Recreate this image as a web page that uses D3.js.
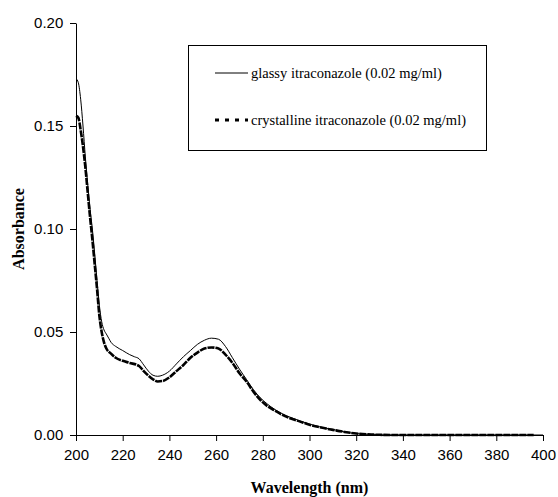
<!DOCTYPE html>
<html><head><meta charset="utf-8">
<script src="https://cdn.jsdelivr.net/npm/d3@7"></script>
<style>body{margin:0;background:#fff;}svg{display:block;}</style>
</head><body>
<svg id="c" width="558" height="497"></svg>
<script>
const glassyWl = [200,201,202,203,204,205,206,207,208,209,210,211,212,213,214,215,217,220,223,225,227,229,231,233,235,237,240,243,246,249,252,255,258,261,264,267,270,273,276,279,282,285,288,292,296,300,305,310,315,320,325,330,340,360,380,400];
const glassyAbs = [0.173,0.171,0.163,0.150,0.135,0.122,0.110,0.100,0.088,0.075,0.063,0.055,0.051,0.049,0.047,0.045,0.043,0.041,0.039,0.038,0.037,0.034,0.031,0.029,0.0285,0.029,0.031,0.0345,0.038,0.041,0.044,0.046,0.047,0.0465,0.043,0.0375,0.032,0.027,0.022,0.018,0.015,0.0125,0.0105,0.0085,0.0068,0.0053,0.0038,0.0027,0.0015,0.0007,0.0003,0.0001,0,0,0,0];
const crystWl = [200,201,202,203,204,205,206,207,208,209,210,211,212,213,215,217,220,223,227,229,231,233,235,237,240,243,246,249,252,255,258,261,264,267,270,273,276,279,282,285,288,292,296,300,305,310,315,320,325,330,340,360,380,396];
const crystAbs = [0.155,0.154,0.148,0.140,0.130,0.118,0.106,0.095,0.083,0.071,0.058,0.050,0.045,0.042,0.0395,0.0375,0.036,0.035,0.0335,0.031,0.0288,0.027,0.026,0.0262,0.028,0.031,0.034,0.0375,0.040,0.042,0.0425,0.042,0.039,0.035,0.030,0.026,0.021,0.017,0.014,0.012,0.010,0.008,0.0065,0.005,0.0036,0.0025,0.0015,0.0007,0.0003,0.0001,0,0,0,0];
const xTicks = [200,220,240,260,280,300,320,340,360,380,400];
const yTicks = [0,0.05,0.10,0.15,0.20];
const legendLabels = ["glassy itraconazole (0.02 mg/ml)","crystalline itraconazole (0.02 mg/ml)"];

const svg = d3.select("#c");
const x = d3.scaleLinear().domain([200,400]).range([76,543]);
const y = d3.scaleLinear().domain([0,0.2]).range([435,23]);

const xa = svg.append("g").attr("transform","translate(0,435)")
  .call(d3.axisBottom(x).tickValues(xTicks).tickSize(6).tickSizeOuter(0).tickFormat(d3.format("d")));
const ya = svg.append("g").attr("transform","translate(76,0)")
  .call(d3.axisLeft(y).tickValues(yTicks).tickSize(6).tickSizeOuter(0).tickFormat(d3.format(".2f")));
[xa,ya].forEach(a=>{
  a.selectAll("path,line").attr("stroke","#000").attr("stroke-width",1);
  a.selectAll("text").attr("font-family","'Liberation Sans', Arial, sans-serif").attr("font-size",15).attr("fill","#000");
});
xa.selectAll("text").attr("dy","1.05em");
ya.selectAll("text").attr("dx","-0.25em");

const line = d3.line().x(d=>x(d[0])).y(d=>y(d[1])).curve(d3.curveMonotoneX);
const cryst = crystWl.map((w,i)=>[w,crystAbs[i]]);
const glassy = glassyWl.map((w,i)=>[w,glassyAbs[i]]);
svg.append("path").attr("d",line(cryst)).attr("fill","none").attr("stroke","#000")
  .attr("stroke-width",2.6).attr("stroke-dasharray","7,1");
svg.append("path").attr("d",line(glassy)).attr("fill","none").attr("stroke","#000").attr("stroke-width",1);

svg.append("text").attr("transform","translate(24,229) rotate(-90)").attr("text-anchor","middle")
  .attr("font-family","'Liberation Serif', 'Times New Roman', serif").attr("font-weight","bold").attr("font-size",16)
  .text("Absorbance");
svg.append("text").attr("x",309.5).attr("y",493).attr("text-anchor","middle")
  .attr("font-family","'Liberation Serif', 'Times New Roman', serif").attr("font-weight","bold").attr("font-size",16)
  .text("Wavelength (nm)");

const lg = svg.append("g");
lg.append("rect").attr("x",188.5).attr("y",45.5).attr("width",298).attr("height",105)
  .attr("fill","#fff").attr("stroke","#000").attr("stroke-width",1);
lg.append("line").attr("x1",215).attr("x2",248).attr("y1",73).attr("y2",73).attr("stroke","#000").attr("stroke-width",1);
lg.append("line").attr("x1",215).attr("x2",248).attr("y1",120).attr("y2",120).attr("stroke","#000").attr("stroke-width",3).attr("stroke-dasharray","4,6");
legendLabels.forEach((t,i)=>{
  lg.append("text").attr("x",251).attr("y",[73,120][i]).attr("dy","0.33em")
    .attr("font-family","'Liberation Serif', 'Times New Roman', serif").attr("font-size",14.5).text(t);
});
</script>
</body></html>
